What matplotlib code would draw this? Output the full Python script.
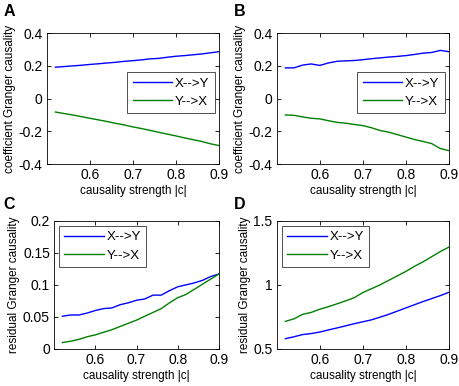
import matplotlib.pyplot as plt
import numpy as np

plt.rcParams['font.family'] = ['Liberation Sans', 'DejaVu Sans']

# causality strength |c|
c = [0.52, 0.54, 0.56, 0.58, 0.60, 0.62, 0.64, 0.66, 0.68, 0.70,
     0.72, 0.74, 0.76, 0.78, 0.80, 0.82, 0.84, 0.86, 0.88, 0.90]

# A: coefficient Granger causality
a_xy = [0.192, 0.196, 0.200, 0.204, 0.209, 0.213, 0.218, 0.222, 0.228, 0.232,
        0.237, 0.243, 0.246, 0.253, 0.259, 0.263, 0.268, 0.273, 0.280, 0.287]
a_yx = [-0.082, -0.091, -0.100, -0.110, -0.120, -0.130, -0.140, -0.151, -0.161, -0.173,
        -0.183, -0.194, -0.206, -0.217, -0.228, -0.240, -0.251, -0.262, -0.276, -0.287]

# B: coefficient Granger causality
b_xy = [0.188, 0.188, 0.205, 0.212, 0.203, 0.218, 0.228, 0.231, 0.233, 0.238,
        0.244, 0.249, 0.254, 0.258, 0.263, 0.270, 0.278, 0.282, 0.295, 0.287]
b_yx = [-0.100, -0.102, -0.112, -0.120, -0.124, -0.135, -0.145, -0.150, -0.158, -0.165,
        -0.178, -0.195, -0.205, -0.220, -0.235, -0.250, -0.262, -0.275, -0.305, -0.318]

# C: residual Granger causality
c_xy = [0.051, 0.053, 0.053, 0.056, 0.060, 0.063, 0.064, 0.069, 0.072, 0.076,
        0.078, 0.084, 0.084, 0.091, 0.097, 0.100, 0.103, 0.107, 0.113, 0.117]
c_yx = [0.010, 0.012, 0.015, 0.019, 0.022, 0.026, 0.030, 0.035, 0.040, 0.045,
        0.051, 0.057, 0.063, 0.072, 0.080, 0.085, 0.093, 0.101, 0.109, 0.117]

# D: residual Granger causality
d_xy = [0.580, 0.595, 0.612, 0.620, 0.632, 0.648, 0.664, 0.680, 0.697, 0.712,
        0.727, 0.748, 0.770, 0.795, 0.820, 0.845, 0.870, 0.893, 0.916, 0.942]
d_yx = [0.715, 0.735, 0.770, 0.785, 0.810, 0.830, 0.852, 0.875, 0.900, 0.940,
        0.970, 1.000, 1.035, 1.070, 1.105, 1.145, 1.180, 1.220, 1.260, 1.295]

panels = [
    ('A', a_xy, a_yx, (-0.4, 0.4), [-0.4, -0.2, 0, 0.2, 0.4], ['-0.4', '-0.2', '0', '0.2', '0.4'],
     'coefficient Granger causality', 'lower right', (0.975, 0.39)),
    ('B', b_xy, b_yx, (-0.4, 0.4), [-0.4, -0.2, 0, 0.2, 0.4], ['-0.4', '-0.2', '0', '0.2', '0.4'],
     'coefficient Granger causality', 'lower right', (0.975, 0.39)),
    ('C', c_xy, c_yx, (0, 0.2), [0, 0.05, 0.1, 0.15, 0.2], ['0', '0.05', '0.1', '0.15', '0.2'],
     'residual Granger causality', 'upper left', (0.03, 0.96)),
    ('D', d_xy, d_yx, (0.5, 1.5), [0.5, 1, 1.5], ['0.5', '1', '1.5'],
     'residual Granger causality', 'upper left', (0.03, 0.96)),
]

rects = [
    [0.102, 0.575, 0.375, 0.339],
    [0.603, 0.575, 0.375, 0.339],
    [0.118, 0.096, 0.359, 0.332],
    [0.603, 0.096, 0.375, 0.332],
]
letter_pos = [(0.008, 0.99), (0.51, 0.99), (0.008, 0.49), (0.51, 0.49)]

fig = plt.figure(figsize=(4.59, 3.86), dpi=100)

for (letter, xy, yx, ylim, yt, ytl, ylab, loc, anchor), rect, lp in zip(panels, rects, letter_pos):
    ax = fig.add_axes(rect)
    ax.plot(c, xy, color=(0, 0, 1), lw=1.0, label='X-->Y')
    ax.plot(c, yx, color=(0, 0.5, 0), lw=1.0, label='Y-->X')
    ax.set_xlim(0.5, 0.9)
    ax.set_ylim(*ylim)
    ax.set_xticks([0.6, 0.7, 0.8, 0.9])
    ax.set_xticklabels(['0.6', '0.7', '0.8', '0.9'])
    ax.set_yticks(yt)
    ax.set_yticklabels(ytl)
    ax.tick_params(direction='in', top=True, right=True, labelsize=10, length=3, width=0.6, pad=3)
    for s in ax.spines.values():
        s.set_linewidth(0.6)
    ax.set_xlabel('causality strength |c|', fontsize=8.5, labelpad=2)
    ax.set_ylabel(ylab, fontsize=8.5, labelpad=2)
    leg = ax.legend(loc=loc, bbox_to_anchor=anchor, fontsize=9.5, frameon=True,
                    fancybox=False, handlelength=3.0, borderpad=0.4, labelspacing=0.45,
                    handletextpad=0.2, borderaxespad=0)
    leg.get_frame().set_edgecolor('black')
    leg.get_frame().set_linewidth(0.6)
    fig.text(lp[0], lp[1], letter, fontsize=11.5, fontweight='bold', va='top', ha='left')

fig.savefig('out.png', dpi=100)
